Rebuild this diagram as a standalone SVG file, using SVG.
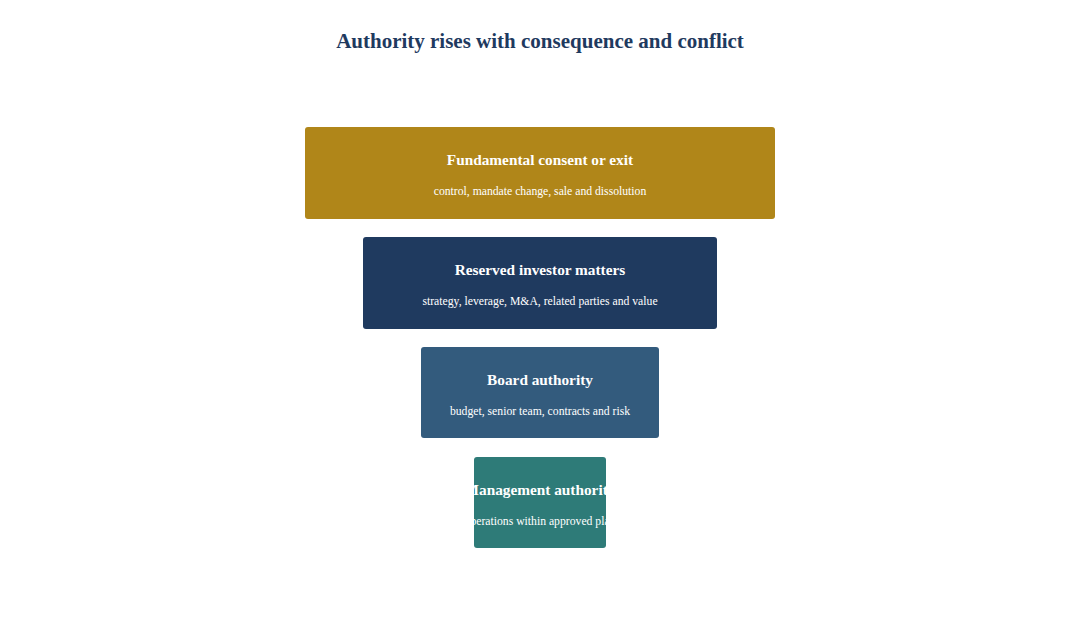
<svg xmlns="http://www.w3.org/2000/svg" width="1080" height="620" viewBox="0 0 1080 620">
<style>
.title{font-family:"Liberation Serif","Times New Roman",serif;font-weight:bold;font-size:21px;fill:#1f3a5f;text-anchor:middle}
.h{font-family:"Liberation Serif","Times New Roman",serif;font-weight:bold;font-size:15.3px;fill:#ffffff;text-anchor:middle}
.s{font-family:"Liberation Serif","Times New Roman",serif;font-size:11.7px;fill:#ffffff;text-anchor:middle}
</style>
<defs>
<clipPath id="c4"><rect x="474" y="457" width="132" height="91" rx="3"/></clipPath>
</defs>
<rect width="1080" height="620" fill="#ffffff"/>
<text class="title" x="540" y="48">Authority rises with consequence and conflict</text>
<g id="connectors"></g>
<g id="n1">
<rect x="305" y="127" width="470" height="92" rx="3" fill="#b08619"/>
<text class="h" x="540" y="165">Fundamental consent or exit</text>
<text class="s" x="540" y="195">control, mandate change, sale and dissolution</text>
</g>
<g id="n2">
<rect x="363" y="237" width="354" height="92" rx="3" fill="#1f3a5f"/>
<text class="h" x="540" y="275">Reserved investor matters</text>
<text class="s" x="540" y="305">strategy, leverage, M&amp;A, related parties and value</text>
</g>
<g id="n3">
<rect x="421" y="347" width="238" height="91" rx="3" fill="#335b7d"/>
<text class="h" x="540" y="385">Board authority</text>
<text class="s" x="540" y="415">budget, senior team, contracts and risk</text>
</g>
<g id="n4">
<rect x="474" y="457" width="132" height="91" rx="3" fill="#2e7b78"/>
<g clip-path="url(#c4)">
<text class="h" x="540" y="495">Management authority</text>
<text class="s" x="540" y="525">operations within approved plan</text>
</g>
</g>
</svg>
